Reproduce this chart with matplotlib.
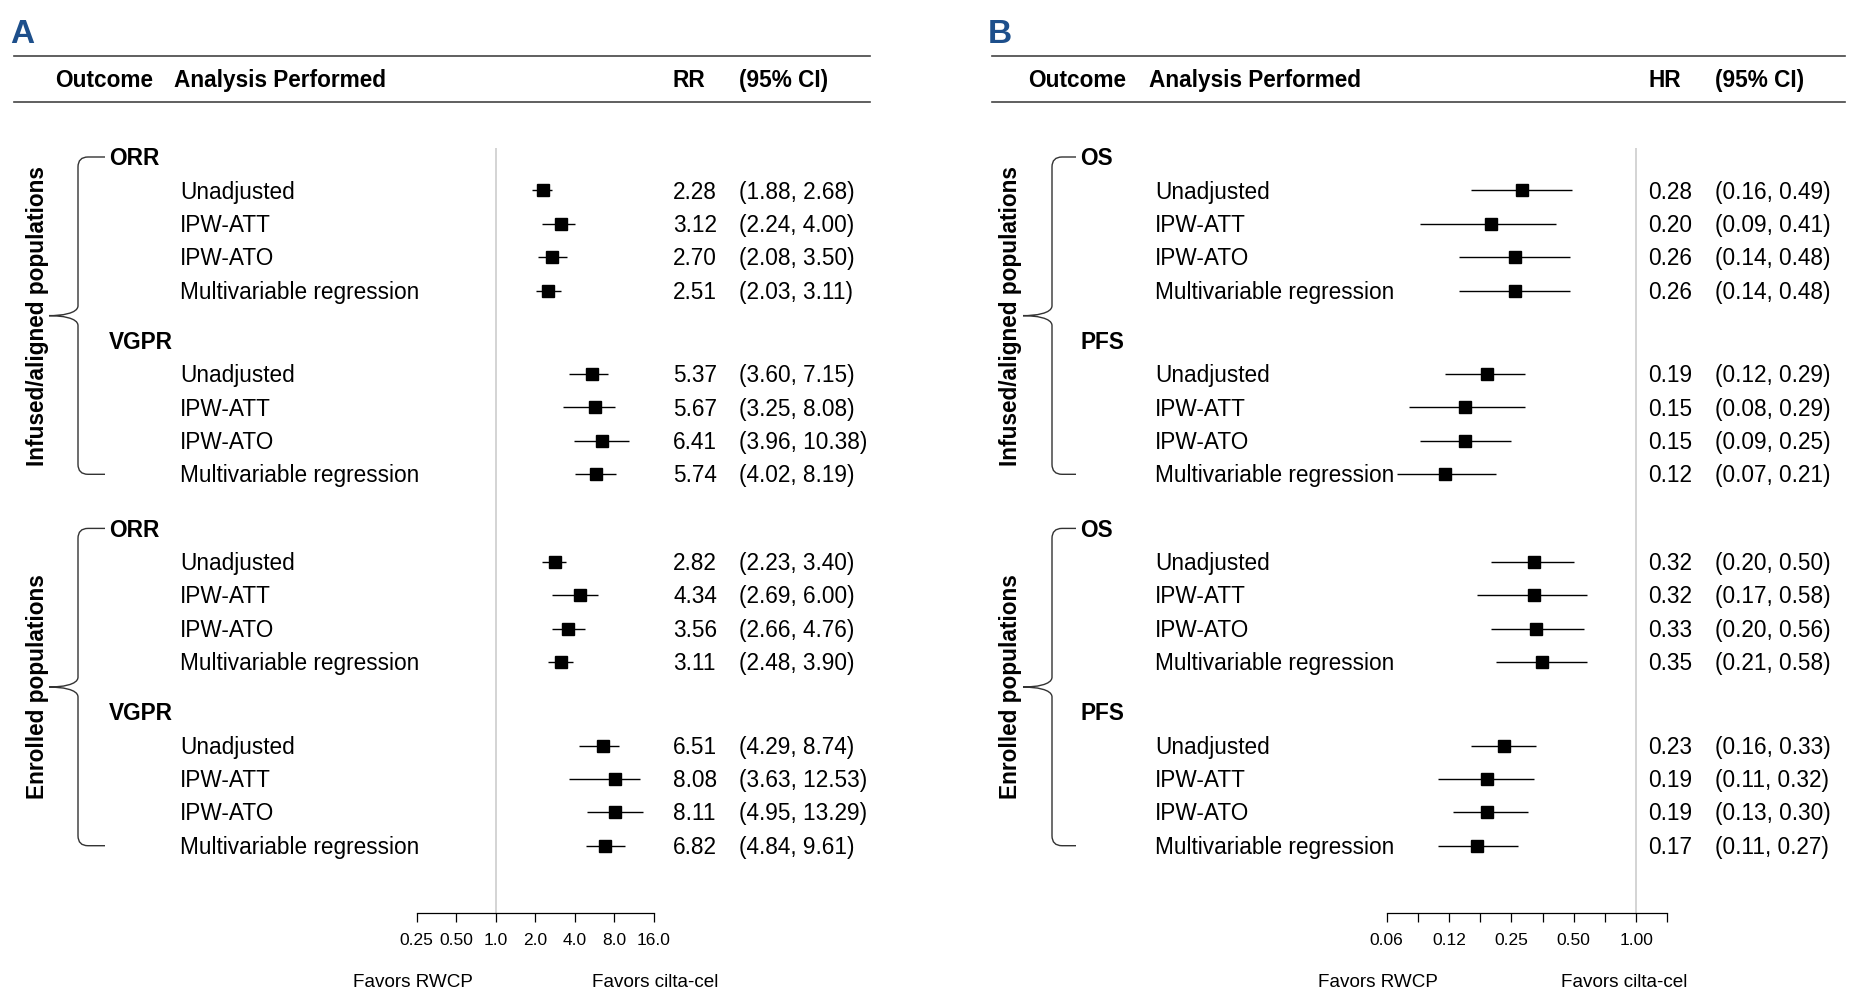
import numpy as np
import matplotlib.pyplot as plt
from matplotlib.path import Path
from matplotlib.patches import PathPatch
from matplotlib.ticker import NullLocator

plt.rcParams['font.family'] = ['Liberation Sans', 'DejaVu Sans']

populations = ['Infused/aligned populations', 'Enrolled populations']
analyses = ['Unadjusted', 'IPW-ATT', 'IPW-ATO', 'Multivariable regression']

# Panel A: risk ratios, ordered population -> outcome -> analysis
outcomes_a = ['ORR', 'VGPR']
rr = [2.28, 3.12, 2.70, 2.51, 5.37, 5.67, 6.41, 5.74,
      2.82, 4.34, 3.56, 3.11, 6.51, 8.08, 8.11, 6.82]
rr_lo = [1.88, 2.24, 2.08, 2.03, 3.60, 3.25, 3.96, 4.02,
         2.23, 2.69, 2.66, 2.48, 4.29, 3.63, 4.95, 4.84]
rr_hi = [2.68, 4.00, 3.50, 3.11, 7.15, 8.08, 10.38, 8.19,
         3.40, 6.00, 4.76, 3.90, 8.74, 12.53, 13.29, 9.61]
rr_ticks = [0.25, 0.5, 1, 2, 4, 8, 16]
rr_ticklabels = ['0.25', '0.50', '1.0', '2.0', '4.0', '8.0', '16.0']

# Panel B: hazard ratios, same ordering
outcomes_b = ['OS', 'PFS']
hr = [0.28, 0.20, 0.26, 0.26, 0.19, 0.15, 0.15, 0.12,
      0.32, 0.32, 0.33, 0.35, 0.23, 0.19, 0.19, 0.17]
hr_lo = [0.16, 0.09, 0.14, 0.14, 0.12, 0.08, 0.09, 0.07,
         0.20, 0.17, 0.20, 0.21, 0.16, 0.11, 0.13, 0.11]
hr_hi = [0.49, 0.41, 0.48, 0.48, 0.29, 0.29, 0.25, 0.21,
         0.50, 0.58, 0.56, 0.58, 0.33, 0.32, 0.30, 0.27]
hr_ticks = [0.0625, 0.0884, 0.125, 0.1768, 0.25, 0.3536, 0.5, 0.7071, 1.0, 1.4142]
hr_ticklabels = ['0.06', '', '0.12', '', '0.25', '', '0.50', '', '1.00', '']

W, H = 1862, 990
FS = 16.3
BL = 0.36 * FS * 100 / 72  # baseline offset so text is centred on a row
AX_TOP, AX_BOT = 148, 913

fig = plt.figure(figsize=(W / 100, H / 100), dpi=100)
lay = fig.add_axes([0, 0, 1, 1])
lay.set_xlim(0, W)
lay.set_ylim(H, 0)
lay.axis('off')

# row layout in pixel rows
head_y, row_y = [], []
y, dy = 157, 33.4
for p in range(2):
    for o in range(2):
        head_y.append(y)
        for a in range(4):
            y += dy
            row_y.append(y)
        y += dy * 1.5 if o == 0 else dy * 1.62


def brace(xv, xtip, xend, ytop, ybot):
    ym = (ytop + ybot) / 2
    r = 10
    verts = [(xend, ytop), (xv + r, ytop), (xv, ytop), (xv, ytop + r),
             (xv, ym - r), (xv, ym - 2), (xtip + 12, ym), (xtip, ym),
             (xtip + 12, ym), (xv, ym + 2), (xv, ym + r),
             (xv, ybot - r), (xv, ybot), (xv + r, ybot), (xend, ybot)]
    codes = [Path.MOVETO, Path.LINETO, Path.CURVE3, Path.CURVE3,
             Path.LINETO, Path.CURVE4, Path.CURVE4, Path.CURVE4,
             Path.CURVE4, Path.CURVE4, Path.CURVE4,
             Path.LINETO, Path.CURVE3, Path.CURVE3, Path.LINETO]
    lay.add_patch(PathPatch(Path(verts, codes), fill=False, ec='#333333', lw=1.0))


def panel(letter, x0, x1, hdr_out_x, out_x, ana_x, est_x, ci_x, est_name,
          outcomes, est, lo, hi, ax_l, ax_r, xlim, ticks, ticklabels,
          brace_x, tip_x, hook_x, pop_x, fav_l, fav_r):
    lay.text(x0 - 4, 43, letter, fontsize=24, fontweight='bold',
             color='#1d4f8b', va='baseline', ha='left')
    for yy in (56, 102):
        lay.plot([x0, x1], [yy, yy], color='#444444', lw=1.2)
    lay.text(hdr_out_x, 87, 'Outcome', fontsize=FS, fontweight='bold', va='baseline')
    lay.text(ana_x - 6, 87, 'Analysis Performed', fontsize=FS, fontweight='bold', va='baseline')
    lay.text(est_x, 87, est_name, fontsize=FS, fontweight='bold', va='baseline')
    lay.text(ci_x, 87, '(95% CI)', fontsize=FS, fontweight='bold', va='baseline')

    for p in range(2):
        top = head_y[2 * p]
        bot = row_y[8 * p + 7]
        brace(brace_x, tip_x, hook_x, top, bot)
        lay.text(pop_x, (top + bot) / 2, populations[p], rotation=90,
                 fontsize=FS, fontweight='bold', ha='center', va='center')
        for o in range(2):
            lay.text(out_x, head_y[2 * p + o] + BL, outcomes[o], fontsize=FS,
                     fontweight='bold', va='baseline')
            for a in range(4):
                i = 8 * p + 4 * o + a
                lay.text(ana_x, row_y[i] + BL, analyses[a], fontsize=FS, va='baseline')
                lay.text(est_x, row_y[i] + BL, f'{est[i]:.2f}', fontsize=FS, va='baseline')
                lay.text(ci_x, row_y[i] + BL, f'({lo[i]:.2f}, {hi[i]:.2f})',
                         fontsize=FS, va='baseline')

    ax = fig.add_axes([ax_l / W, 1 - AX_BOT / H, (ax_r - ax_l) / W, (AX_BOT - AX_TOP) / H])
    ax.patch.set_visible(False)
    ax.set_xscale('log', base=2)
    ax.set_xlim(*xlim)
    ax.set_ylim(AX_BOT, AX_TOP)
    ax.axvline(1, color='#d4d4d4', lw=1.4, zorder=0)
    ax.errorbar(est, row_y, xerr=[np.subtract(est, lo), np.subtract(hi, est)],
                fmt='s', color='black', ms=8, elinewidth=1.0, capsize=0)
    ax.set_xticks(ticks)
    ax.set_xticklabels(ticklabels)
    ax.xaxis.set_minor_locator(NullLocator())
    ax.set_yticks([])
    for s in ('left', 'right', 'top'):
        ax.spines[s].set_visible(False)
    ax.spines['bottom'].set_linewidth(0.9)
    ax.tick_params(axis='x', direction='out', length=6.5, width=0.9,
                   labelsize=12.5, pad=8)

    lay.text(fav_l, 987, 'Favors RWCP', fontsize=13.6, ha='left', va='baseline')
    lay.text(fav_r, 987, 'Favors cilta-cel', fontsize=13.6, ha='right', va='baseline')


panel('A', 14, 870, 55, 109, 180, 673, 739, 'RR', outcomes_a, rr, rr_lo, rr_hi,
      416.7, 654, (0.25, 16), rr_ticks, rr_ticklabels,
      78, 49, 105, 38, 353, 718)
panel('B', 992, 1845, 1028, 1080, 1155, 1648, 1715, 'HR', outcomes_b, hr, hr_lo, hr_hi,
      1386.7, 1667.3, (0.0625, 1.4142), hr_ticks, hr_ticklabels,
      1052, 1023, 1076, 1011, 1318, 1687)

fig.savefig('out.png', dpi=100)
